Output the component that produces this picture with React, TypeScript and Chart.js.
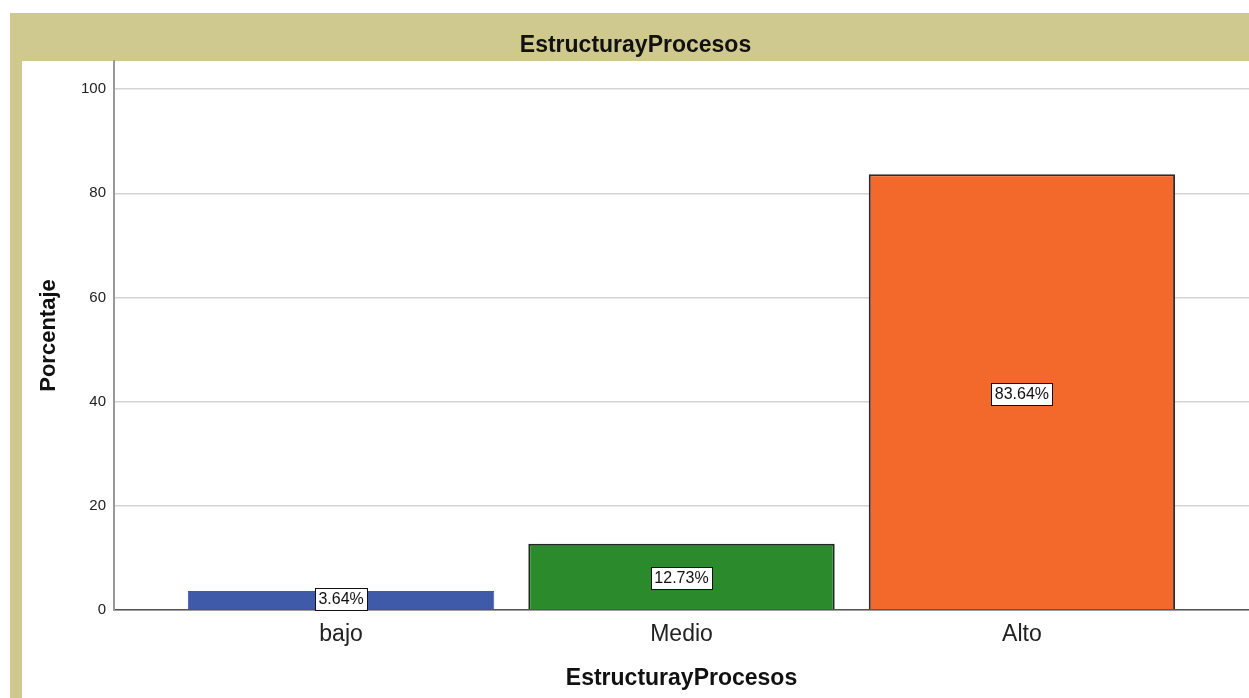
import React, { useEffect, useRef } from "react";
import { Chart, registerables } from "chart.js";

Chart.register(...registerables);

const categories = ["bajo", "Medio", "Alto"];
const percentages = [3.64, 12.73, 83.64];
const barColors = ["#3f5aa9", "#2a8a2c", "#f3692b"];
const barBorders = ["#3f5aa9", "#1f2a1f", "#2b2b2b"];
const barBorderWidths = [1, 2, 2];
const yTicks = [0, 20, 40, 60, 80, 100];
const chartTitle = "EstructurayProcesos";
const yTitle = "Porcentaje";
const xTitle = "EstructurayProcesos";

const FONT = "'Liberation Sans', Arial, sans-serif";

const bandPlugin = {
  id: "band",
  beforeDraw(chart: any) {
    const ctx = chart.ctx;
    ctx.save();
    ctx.fillStyle = "#ffffff";
    ctx.fillRect(0, 0, chart.width, chart.height);
    ctx.fillStyle = "#cfc98f";
    ctx.fillRect(10, 13, chart.width - 10, 48);
    ctx.fillRect(10, 61, 12, chart.height - 61);
    ctx.restore();
  },
};

const labelPlugin = {
  id: "barLabels",
  afterDatasetsDraw(chart: any) {
    const ctx = chart.ctx;
    const meta = chart.getDatasetMeta(0);
    ctx.save();
    ctx.font = `16px ${FONT}`;
    ctx.textAlign = "center";
    ctx.textBaseline = "middle";
    meta.data.forEach((el: any, i: number) => {
      const v = percentages[i];
      const text = `${v.toFixed(2)}%`;
      const cx = el.x;
      const h = 22;
      let cy = (el.y + el.base) / 2 + 2;
      if (cy + h / 2 > el.base + 1) cy = el.base + 1 - h / 2;
      const w = Math.round(ctx.measureText(text).width + 7);
      const x0 = Math.round(cx - w / 2) + 0.5;
      const y0 = Math.round(cy - h / 2) + 0.5;
      ctx.fillStyle = "#ffffff";
      ctx.fillRect(x0, y0, w, h);
      ctx.strokeStyle = "#111111";
      ctx.lineWidth = 1;
      ctx.strokeRect(x0, y0, w, h);
      ctx.fillStyle = "#111111";
      ctx.fillText(text, cx, y0 + h / 2 + 0.5);
    });
    ctx.restore();
  },
};

export default function App() {
  const ref = useRef<HTMLCanvasElement>(null);

  useEffect(() => {
    if (!ref.current) return;
    const chart = new Chart(ref.current, {
      type: "bar",
      data: {
        datasets: [
          {
            data: percentages.map((v, i) => ({ x: i, y: v })),
            backgroundColor: barColors,
            borderColor: barBorders,
            borderWidth: barBorderWidths,
            barPercentage: 0.9,
            categoryPercentage: 1,
          },
        ],
      },
      options: {
        responsive: false,
        animation: false,
        devicePixelRatio: 1,
        layout: { padding: { top: 13, left: 22, right: 0, bottom: 0 } },
        plugins: {
          legend: { display: false },
          tooltip: { enabled: false },
          title: {
            display: true,
            text: chartTitle,
            color: "#111111",
            font: { family: FONT, size: 23, weight: "bold", lineHeight: 1.2 },
            padding: { top: 18.5, bottom: 1.9 },
          },
        },
        scales: {
          x: {
            type: "linear",
            offset: false,
            min: -0.667,
            max: 2.667,
            afterBuildTicks(scale: any) {
              scale.ticks = categories.map((_, i) => ({ value: i }));
            },
            afterFit(scale: any) {
              scale.height = 88;
            },
            ticks: {
              callback: (v: any) => categories[v] ?? "",
              color: "#222222",
              font: { family: FONT, size: 23 },
              padding: 11,
              autoSkip: false,
              maxRotation: 0,
            },
            grid: { display: false, drawTicks: false, offset: false },
            border: { display: true, color: "#555555", width: 1.5 },
            title: {
              display: true,
              text: xTitle,
              color: "#111111",
              font: { family: FONT, size: 23, weight: "bold" },
              padding: { top: 0, bottom: 6 },
            },
          },
          y: {
            type: "linear",
            min: 0,
            max: 105.4,
            afterBuildTicks(scale: any) {
              scale.ticks = yTicks.map((v) => ({ value: v }));
            },
            afterFit(scale: any) {
              scale.width = 92;
            },
            ticks: {
              color: "#222222",
              font: { family: FONT, size: 15 },
              padding: 8,
            },
            grid: { color: "#d4d4d4", lineWidth: 1.5, drawTicks: false },
            border: { display: true, color: "#999999", width: 2 },
            title: {
              display: true,
              text: yTitle,
              color: "#111111",
              font: { family: FONT, size: 22, weight: "bold" },
              padding: { top: 14, bottom: 0 },
            },
          },
        },
      },
      plugins: [bandPlugin, labelPlugin],
    } as any);
    return () => chart.destroy();
  }, []);

  return (
    <canvas
      ref={ref}
      width={1249}
      height={698}
      style={{ position: "absolute", left: 0, top: 0, width: 1249, height: 698 }}
    />
  );
}
